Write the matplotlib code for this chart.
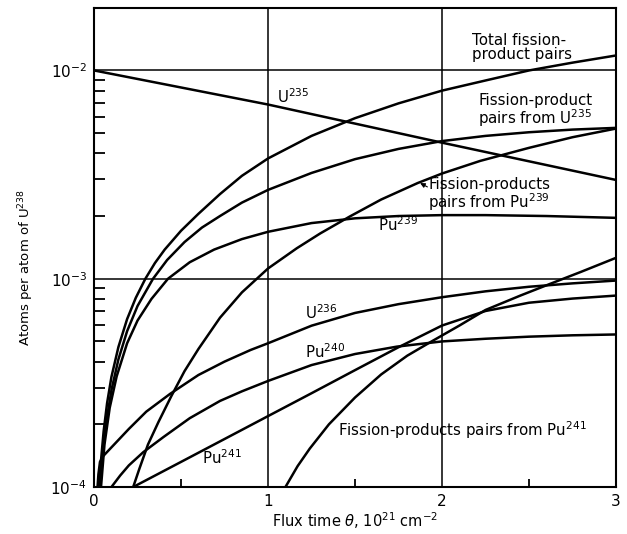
import numpy as np
import matplotlib
matplotlib.use("Agg")
import matplotlib.pyplot as plt
from matplotlib.ticker import LogLocator, FixedLocator, NullFormatter

plt.rcParams['font.family'] = ['DejaVu Sans']
plt.rcParams['mathtext.default'] = 'regular'

# flux time (1e21 cm^-2) and atoms per atom of U238
u235_x = [0.0, 1.0, 2.0, 3.0]
u235_y = [1.0e-2, 6.86e-3, 4.5e-3, 2.98e-3]

total_x = [0.03, 0.04, 0.055, 0.075, 0.1, 0.14, 0.19, 0.24, 0.295, 0.35, 0.406, 0.5,
           0.6, 0.724, 0.85, 1.0, 1.25, 1.5, 1.75, 2.0, 2.25, 2.5, 2.75, 3.0]
total_y = [1.0e-4, 1.34e-4, 1.85e-4, 2.53e-4, 3.38e-4, 4.7e-4, 6.4e-4, 8.1e-4, 1.0e-3,
           1.19e-3, 1.38e-3, 1.7e-3, 2.05e-3, 2.55e-3, 3.12e-3, 3.78e-3, 4.85e-3,
           5.9e-3, 6.95e-3, 8.0e-3, 8.95e-3, 1.0e-2, 1.09e-2, 1.18e-2]

fp_u235_x = [0.035, 0.05, 0.07, 0.1, 0.14, 0.19, 0.25, 0.339, 0.42, 0.52, 0.62, 0.724,
             0.85, 1.0, 1.25, 1.5, 1.75, 2.0, 2.25, 2.5, 2.75, 3.0]
fp_u235_y = [1.0e-4, 1.44e-4, 2.04e-4, 2.92e-4, 4.1e-4, 5.6e-4, 7.4e-4, 1.0e-3, 1.23e-3,
             1.5e-3, 1.76e-3, 2.0e-3, 2.32e-3, 2.67e-3, 3.22e-3, 3.75e-3, 4.2e-3,
             4.58e-3, 4.85e-3, 5.05e-3, 5.2e-3, 5.3e-3]

fp_pu239_x = [0.225, 0.26, 0.31, 0.37, 0.444, 0.52, 0.6, 0.724, 0.85, 1.0, 1.165, 1.3,
              1.47, 1.65, 1.86, 2.0, 2.22, 2.5, 2.75, 3.0]
fp_pu239_y = [1.0e-4, 1.22e-4, 1.6e-4, 2.05e-4, 2.73e-4, 3.6e-4, 4.6e-4, 6.5e-4, 8.6e-4,
              1.12e-3, 1.4e-3, 1.65e-3, 1.99e-3, 2.4e-3, 2.88e-3, 3.2e-3, 3.68e-3,
              4.25e-3, 4.78e-3, 5.26e-3]

pu239_x = [0.04, 0.06, 0.09, 0.13, 0.19, 0.25, 0.33, 0.425, 0.55, 0.69, 0.85, 1.0,
           1.25, 1.5, 1.75, 2.0, 2.25, 2.6, 3.0]
pu239_y = [1.0e-4, 1.6e-4, 2.4e-4, 3.4e-4, 4.9e-4, 6.3e-4, 8.0e-4, 1.0e-3, 1.2e-3,
           1.38e-3, 1.55e-3, 1.68e-3, 1.85e-3, 1.95e-3, 2.0e-3, 2.02e-3, 2.02e-3,
           2.0e-3, 1.96e-3]

u236_x = [0.02, 0.025, 0.034, 0.05, 0.1, 0.2, 0.3, 0.437, 0.6, 0.75, 0.9, 1.0, 1.25,
          1.5, 1.75, 2.0, 2.25, 2.5, 2.75, 3.0]
u236_y = [1.0e-4, 1.15e-4, 1.32e-4, 1.4e-4, 1.55e-4, 1.9e-4, 2.3e-4, 2.8e-4, 3.45e-4,
          4.0e-4, 4.55e-4, 4.9e-4, 5.95e-4, 6.85e-4, 7.55e-4, 8.15e-4, 8.7e-4, 9.15e-4,
          9.5e-4, 9.8e-4]

pu240_x = [0.1, 0.15, 0.2, 0.283, 0.4, 0.55, 0.724, 0.85, 1.0, 1.25, 1.5, 1.74, 2.0,
           2.25, 2.5, 2.75, 3.0]
pu240_y = [1.0e-4, 1.135e-4, 1.27e-4, 1.47e-4, 1.74e-4, 2.14e-4, 2.59e-4, 2.88e-4,
           3.23e-4, 3.85e-4, 4.35e-4, 4.72e-4, 5.0e-4, 5.15e-4, 5.27e-4, 5.35e-4, 5.4e-4]

pu241_x = [0.225, 0.5, 0.75, 1.0, 1.25, 1.5, 1.75, 2.0, 2.25, 2.5, 2.75, 3.0]
pu241_y = [1.0e-4, 1.32e-4, 1.7e-4, 2.19e-4, 2.82e-4, 3.64e-4, 4.69e-4, 5.96e-4,
           7.0e-4, 7.67e-4, 8.03e-4, 8.3e-4]

fp_pu241_x = [1.10, 1.17, 1.24, 1.35, 1.5, 1.65, 1.8, 1.94, 2.1, 2.25, 2.45, 2.62, 2.8, 3.0]
fp_pu241_y = [1.0e-4, 1.26e-4, 1.53e-4, 2.0e-4, 2.69e-4, 3.47e-4, 4.27e-4, 5.0e-4,
              5.96e-4, 7.08e-4, 8.3e-4, 9.44e-4, 1.08e-3, 1.26e-3]

curves = [(u235_x, u235_y), (total_x, total_y), (fp_u235_x, fp_u235_y),
          (fp_pu239_x, fp_pu239_y), (pu239_x, pu239_y), (u236_x, u236_y),
          (pu240_x, pu240_y), (pu241_x, pu241_y), (fp_pu241_x, fp_pu241_y)]

fig = plt.figure(figsize=(6.27, 5.34), dpi=100)
ax = fig.add_axes([0.150, 0.088, 0.8325, 0.8975])

for cx, cy in curves:
    ax.plot(cx, cy, color='black', lw=1.8, solid_joinstyle='round')

ax.set_yscale('log')
ax.set_xlim(0, 3)
ax.set_ylim(1e-4, 2e-2)

# grid only at the major positions
for gx in [1, 2]:
    ax.axvline(gx, color='black', lw=1.1)
for gy in [1e-3, 1e-2]:
    ax.axhline(gy, color='black', lw=1.1)

for s in ax.spines.values():
    s.set_linewidth(1.5)

ax.xaxis.set_major_locator(FixedLocator([0, 1, 2, 3]))
ax.xaxis.set_minor_locator(FixedLocator([0.5, 1.5, 2.5]))
ax.set_xticklabels(['0', '1', '2', '3'])
ax.yaxis.set_major_locator(FixedLocator([1e-4, 1e-3, 1e-2]))
ax.set_yticklabels(['$10^{-4}$', '$10^{-3}$', '$10^{-2}$'])
ax.yaxis.set_minor_locator(LogLocator(base=10, subs=np.arange(2, 10), numticks=20))
ax.yaxis.set_minor_formatter(NullFormatter())
ax.tick_params(axis='both', which='major', length=0, labelsize=11, pad=5)
ax.tick_params(axis='y', which='minor', direction='in', length=8, width=1.3)
ax.tick_params(axis='x', which='minor', direction='in', length=6, width=1.3)

ax.set_xlabel(r'Flux time $\mathit{\theta}$, 10$^{21}$ cm$^{-2}$', fontsize=10.5, labelpad=1)
fig.text(0.042, 0.50, 'Atoms per atom of U$^{238}$', rotation=90, fontsize=9.5,
         ha='center', va='center')

lab = dict(fontsize=10.8, color='black', linespacing=0.95)
ax.text(2.17, 1.29e-2, 'Total fission-\nproduct pairs', ha='left', va='center', **lab)
ax.text(2.207, 6.4e-3, 'Fission-product\npairs from U$^{235}$', ha='left', va='center', **lab)
ax.text(1.05, 7.5e-3, 'U$^{235}$', ha='left', va='center', **lab)
ax.text(1.92, 2.52e-3, 'Fission-products\npairs from Pu$^{239}$', ha='left', va='center', **lab)
ax.annotate('', xy=(1.86, 2.92e-3), xytext=(1.93, 2.72e-3),
            arrowprops=dict(arrowstyle='-|>', color='black', lw=0.8, mutation_scale=7))
ax.text(1.63, 1.81e-3, 'Pu$^{239}$', ha='left', va='center', **lab)
ax.text(1.21, 6.87e-4, 'U$^{236}$', ha='left', va='center', **lab)
ax.text(1.21, 4.48e-4, 'Pu$^{240}$', ha='left', va='center', **lab)
ax.text(0.62, 1.38e-4, 'Pu$^{241}$', ha='left', va='center', **lab)
ax.text(1.40, 1.87e-4, 'Fission-products pairs from Pu$^{241}$', ha='left', va='center', **lab)

fig.savefig('out.png', dpi=100)
